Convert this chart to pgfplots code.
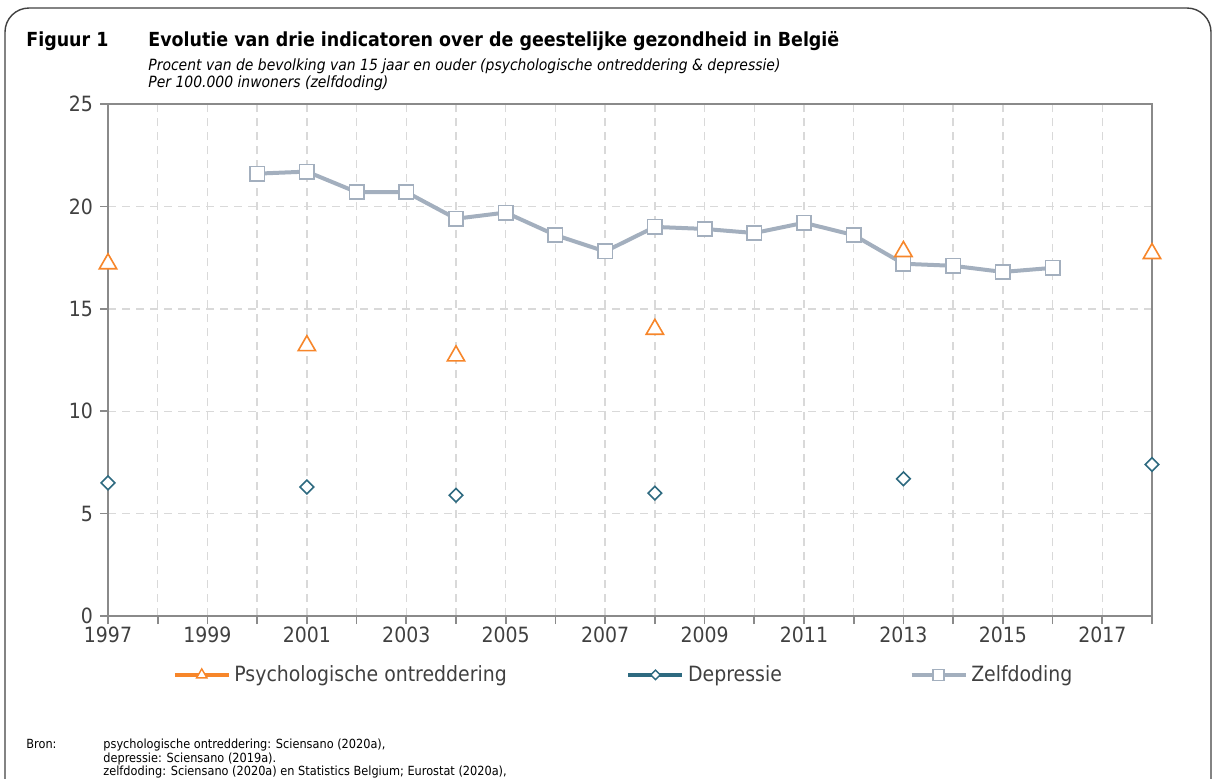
\documentclass[border=0pt]{standalone}
\usepackage{fontspec}
\setmainfont{DejaVu Sans Condensed}
\usepackage{pgfplots}
\pgfplotsset{compat=1.18}
\definecolor{psy}{HTML}{F7862A}
\definecolor{dep}{HTML}{2E6A80}
\definecolor{zelf}{HTML}{A3AFBE}
\definecolor{axgray}{HTML}{8A8A8A}
\definecolor{gridgray}{HTML}{D9D9D9}
\definecolor{txt}{HTML}{404040}

\begin{document}
\begin{tikzpicture}
% frame, title and source in pixel units (y down)
\begin{scope}[x=0.5pt,y=-0.5pt]
\path[use as bounding box] (0,0) rectangle (1215,778);
\draw[black!75, line width=0.7pt, rounded corners=12pt] (5,800) -- (5,8) -- (1211,8) -- (1211,800);
\node[anchor=base west, inner sep=0, font=\bfseries\fontsize{9.7}{11}\selectfont] at (26,46) {Figuur 1};
\node[anchor=base west, inner sep=0, font=\bfseries\fontsize{9.7}{11}\selectfont] at (148,46) {Evolutie van drie indicatoren over de geestelijke gezondheid in België};
\node[anchor=base west, inner sep=0, font=\itshape\fontsize{7.75}{9}\selectfont] at (148,70) {Procent van de bevolking van 15 jaar en ouder (psychologische ontreddering \& depressie)};
\node[anchor=base west, inner sep=0, font=\itshape\fontsize{7.75}{9}\selectfont] at (148,87) {Per 100.000 inwoners (zelfdoding)};
\node[anchor=base west, inner sep=0, font=\fontsize{6.3}{7}\selectfont] at (26,748) {Bron:};
\node[anchor=base west, inner sep=0, font=\fontsize{6.3}{7}\selectfont] at (103,748) {psychologische ontreddering: Sciensano (2020a),};
\node[anchor=base west, inner sep=0, font=\fontsize{6.3}{7}\selectfont] at (103,762) {depressie: Sciensano (2019a).};
\node[anchor=base west, inner sep=0, font=\fontsize{6.3}{7}\selectfont] at (103,775) {zelfdoding: Sciensano (2020a) en Statistics Belgium; Eurostat (2020a),};
\end{scope}

\begin{axis}[at={(54pt,-308pt)}, anchor=south west, scale only axis,
  width=522pt, height=256pt,
  xmin=1997, xmax=2018, ymin=0, ymax=25,
  xtick={1997,1999,...,2017}, minor xtick={1998,2000,...,2018},
  ytick={0,5,...,25},
  xtick pos=bottom, ytick pos=left,
  grid=both,
  major grid style={gridgray, line width=0.7pt, dash pattern=on 4pt off 3pt},
  minor grid style={gridgray, line width=0.7pt, dash pattern=on 4pt off 3pt},
  axis line style={axgray, line width=1.3pt},
  tick style={axgray, line width=0.8pt},
  tick align=outside, major tick length=4pt, minor tick length=4pt,
  /pgf/number format/assume math mode=true,
  /pgf/number format/1000 sep={},
  x tick label style={font=\fontsize{10.5}{12}\selectfont, text=txt, yshift=2pt},
  y tick label style={font=\fontsize{10.5}{12}\selectfont, text=txt},
  clip=false,
  legend columns=3,
  legend style={at={(0.495,-0.115)}, anchor=center, draw=none, fill=none,
    font=\fontsize{10.5}{12}\selectfont, text=txt,
    /tikz/column 2/.style={column sep=58pt},
    /tikz/column 4/.style={column sep=62pt}},
  legend image code/.code={\draw[mark repeat=2,mark phase=2,#1] plot coordinates {(0pt,0pt)(13.5pt,0pt)(27pt,0pt)};},
]
\addlegendimage{psy, line width=1.7pt, mark=triangle*, mark size=3pt, mark options={fill=white, line width=0.7pt}}
\addlegendentry{Psychologische ontreddering}
\addlegendimage{dep, line width=1.7pt, mark=square*, mark size=1.7pt, mark options={fill=white, line width=0.7pt, rotate=45}}
\addlegendentry{Depressie}
\addlegendimage{zelf, line width=1.7pt, mark=square*, mark size=2.8pt, mark options={fill=white, line width=0.7pt}}
\addlegendentry{Zelfdoding}

\addplot[zelf, line width=2pt, mark=square*, mark size=3.6pt, mark options={fill=white, line width=0.8pt}, forget plot]
coordinates {(2000,21.6)(2001,21.7)(2002,20.7)(2003,20.7)(2004,19.4)(2005,19.7)(2006,18.6)(2007,17.8)(2008,19.0)(2009,18.9)(2010,18.7)(2011,19.2)(2012,18.6)(2013,17.2)(2014,17.1)(2015,16.8)(2016,17.0)};
\addplot[only marks, psy, mark=triangle*, mark size=5pt, mark options={fill=white, line width=0.8pt}, forget plot]
coordinates {(1997,17.2)(2001,13.2)(2004,12.7)(2008,14.0)(2013,17.8)(2018,17.7)};
\addplot[only marks, dep, mark=square*, mark size=2.4pt, mark options={fill=white, line width=0.8pt, rotate=45}, forget plot]
coordinates {(1997,6.5)(2001,6.3)(2004,5.9)(2008,6.0)(2013,6.7)(2018,7.4)};
\end{axis}
\end{tikzpicture}
\end{document}
